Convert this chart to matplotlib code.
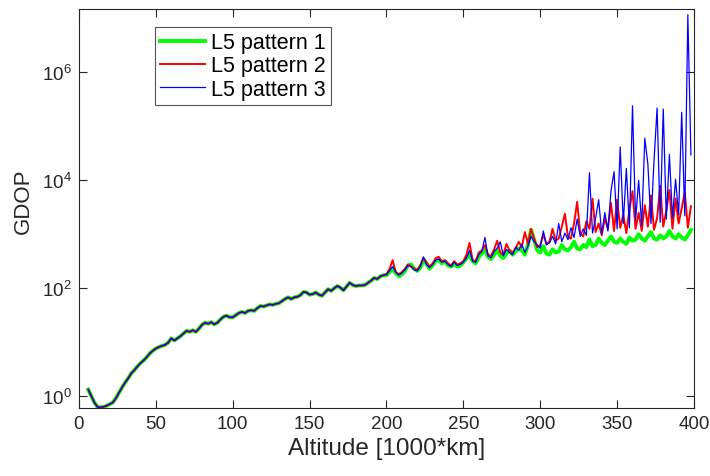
import matplotlib
matplotlib.use("Agg")
import matplotlib.pyplot as plt
import numpy as np

plt.rcParams['font.family'] = ['Liberation Sans', 'DejaVu Sans']

# altitude grid [1000*km]
alt_low = np.arange(6, 200, 2)
alt_high = np.arange(200, 400, 2)

# log10(GDOP), common to all three patterns below 200
gdop_low_log = [
    0.12, 0.00, -0.12, -0.20, -0.21, -0.20, -0.18, -0.15, -0.12, -0.04,
    0.06, 0.16, 0.25, 0.33, 0.42, 0.48, 0.55, 0.61, 0.66, 0.72,
    0.79, 0.84, 0.88, 0.91, 0.93, 0.95, 0.99, 1.07, 1.03, 1.07,
    1.11, 1.16, 1.21, 1.19, 1.22, 1.19, 1.25, 1.32, 1.36, 1.34,
    1.37, 1.33, 1.36, 1.42, 1.47, 1.49, 1.46, 1.46, 1.50, 1.54,
    1.56, 1.54, 1.58, 1.59, 1.58, 1.63, 1.67, 1.66, 1.68, 1.70,
    1.69, 1.71, 1.72, 1.76, 1.80, 1.83, 1.80, 1.83, 1.84, 1.87,
    1.93, 1.92, 1.88, 1.89, 1.92, 1.88, 1.86, 1.92, 1.98, 1.95,
    2.00, 2.04, 2.01, 1.96, 2.03, 2.10, 2.06, 2.04, 2.05, 2.05,
    2.06, 2.10, 2.14, 2.19, 2.17, 2.22, 2.24,
]

# log10(GDOP) from 200 up, per pattern
p1_high_log = [
    2.24, 2.30, 2.36, 2.28, 2.22, 2.25, 2.32, 2.42, 2.44, 2.36,
    2.32, 2.38, 2.52, 2.45, 2.36, 2.42, 2.50, 2.52, 2.46, 2.50,
    2.42, 2.40, 2.45, 2.40, 2.42, 2.48, 2.55, 2.62, 2.50, 2.46,
    2.58, 2.64, 2.72, 2.58, 2.54, 2.62, 2.70, 2.60, 2.56, 2.64,
    2.70, 2.62, 2.68, 2.74, 2.70, 2.62, 2.80, 3.08, 2.90, 2.70,
    2.66, 2.78, 2.64, 2.62, 2.72, 2.66, 2.68, 2.80, 2.72, 2.70,
    2.76, 2.86, 2.74, 2.72, 2.80, 2.76, 2.90, 2.78, 2.80, 2.92,
    2.84, 2.80, 2.88, 2.96, 2.86, 2.84, 2.92, 2.86, 2.82, 2.94,
    2.88, 2.90, 3.00, 2.92, 2.88, 2.96, 3.04, 2.92, 2.90, 2.98,
    2.92, 2.96, 3.06, 2.96, 2.92, 3.00, 2.94, 2.90, 2.98, 3.08,
]
p2_high_log = [
    2.26, 2.36, 2.52, 2.30, 2.26, 2.30, 2.36, 2.44, 2.40, 2.36,
    2.34, 2.42, 2.56, 2.48, 2.40, 2.46, 2.56, 2.58, 2.50, 2.52,
    2.46, 2.42, 2.50, 2.44, 2.46, 2.50, 2.62, 2.84, 2.52, 2.50,
    2.66, 2.70, 2.80, 2.62, 2.60, 2.72, 2.88, 2.66, 2.62, 2.82,
    2.70, 2.66, 2.74, 2.86, 2.76, 3.04, 2.82, 3.10, 2.92, 2.76,
    2.80, 3.00, 2.82, 2.86, 3.10, 2.88, 2.92, 3.14, 3.38, 2.96,
    2.92, 3.20, 3.60, 3.02, 2.96, 3.24, 3.10, 3.66, 3.04, 3.20,
    2.98, 3.30, 3.10, 3.58, 3.06, 3.64, 3.12, 3.36, 3.02, 3.46,
    3.80, 3.10, 3.40, 3.06, 3.54, 3.14, 3.72, 3.08, 3.30, 3.90,
    3.14, 3.44, 3.82, 3.10, 3.66, 3.20, 3.48, 3.78, 3.12, 3.52,
]
p3_high_log = [
    2.25, 2.32, 2.40, 2.30, 2.24, 2.28, 2.34, 2.42, 2.40, 2.34,
    2.32, 2.40, 2.58, 2.44, 2.38, 2.44, 2.52, 2.54, 2.48, 2.50,
    2.44, 2.40, 2.48, 2.42, 2.44, 2.48, 2.56, 2.70, 2.50, 2.48,
    2.62, 2.68, 2.94, 2.60, 2.56, 2.68, 2.74, 2.86, 2.60, 2.72,
    2.66, 2.62, 2.76, 2.70, 2.82, 2.66, 2.78, 2.96, 2.86, 2.80,
    2.74, 3.06, 2.80, 2.84, 2.96, 2.82, 3.20, 2.86, 3.02, 2.90,
    3.12, 2.94, 3.28, 2.96, 3.10, 2.98, 4.14, 3.02, 3.30, 3.64,
    3.00, 3.40, 3.06, 3.80, 4.16, 3.10, 4.62, 3.20, 4.22, 3.12,
    5.38, 3.26, 4.00, 3.16, 4.78, 4.30, 3.20, 4.36, 5.34, 3.22,
    5.32, 3.28, 4.48, 3.30, 4.02, 3.36, 5.26, 3.34, 7.07, 4.47,
]

labels = ['L5 pattern 1', 'L5 pattern 2', 'L5 pattern 3']
colors = ['#00ff00', '#ff0000', '#0000ff']
widths = [2.8, 1.4, 0.9]

alt = np.concatenate([alt_low, alt_high])
series = [np.concatenate([gdop_low_log, h]) for h in (p1_high_log, p2_high_log, p3_high_log)]

fig = plt.figure(figsize=(7.1, 4.77), dpi=100)
ax = fig.add_axes([79 / 710, 68 / 477, 615 / 710, 399 / 477])

for s, lab, c, w in zip(series, labels, colors, widths):
    ax.semilogy(alt, 10 ** s, color=c, linewidth=w, label=lab)

ax.set_xlim(0, 400)
ax.set_ylim(0.6, 1.5e7)
ax.set_xticks(np.arange(0, 401, 50))
ax.set_yticks([1e0, 1e2, 1e4, 1e6])
ax.yaxis.set_minor_locator(matplotlib.ticker.NullLocator())
ax.tick_params(direction='in', top=True, right=True, length=6, width=0.8,
               labelsize=13.5, color='#262626', labelcolor='#262626', pad=5)
for sp in ax.spines.values():
    sp.set_color('#262626')
    sp.set_linewidth(0.8)

ax.set_xlabel('Altitude [1000*km]', fontsize=17.5, color='#262626', labelpad=4)
ax.set_ylabel('GDOP', fontsize=16, color='#262626')
ax.yaxis.set_label_coords(-0.073, 0.52)

leg = ax.legend(loc='upper left', bbox_to_anchor=(0.123, 0.955), borderaxespad=0,
                fontsize=15.5, frameon=True, fancybox=False, handlelength=2.1,
                handletextpad=0.25, labelspacing=0.1, borderpad=0.25)
leg.get_frame().set_edgecolor('#262626')
leg.get_frame().set_linewidth(0.8)

fig.savefig('out.png', dpi=100)
